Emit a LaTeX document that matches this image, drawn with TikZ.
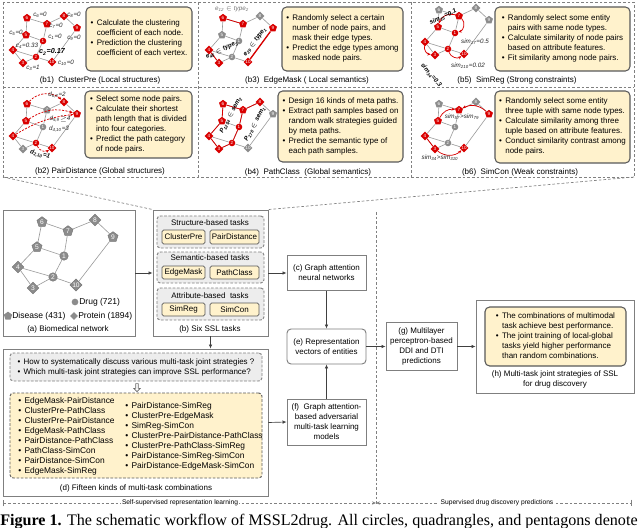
\documentclass[tikz,border=0pt]{standalone}
\usepackage{fontspec}
\setmainfont{Liberation Sans}
\newfontfamily\capfont{Liberation Serif}
\usepackage{graphicx}
\usetikzlibrary{shapes.geometric,shapes.arrows,arrows.meta}
\definecolor{yel}{HTML}{FFF2CC}
\definecolor{boxc}{HTML}{595959}
\definecolor{outc}{HTML}{7F7F7F}
\definecolor{nred}{HTML}{D90000}
\definecolor{ngray}{HTML}{8C8C8C}
\definecolor{grpfill}{HTML}{EDEDED}
\definecolor{dashc}{HTML}{808080}
\newcommand\ftx{\fontsize{6}{7.5}\selectfont}
\newcommand\ftd{\fontsize{6.3}{7.5}\selectfont}
\newcommand\ftl{\fontsize{4.7}{5.5}\selectfont}
\newcommand\ftg{\fontsize{6.4}{7.5}\selectfont}
\newcommand\ftb{\fontsize{5}{6}\selectfont}
\newcommand\sub[1]{\textsubscript{#1}}
\newcommand\blist[1]{\begin{tabular}{@{}l@{\hspace{2.5pt}}l@{}}#1\end{tabular}}
\def\grX{{43,36,23,13,26,27,47,64,77,52}}
\def\grY{{41,57,63,50,35,18,24,16,28,62}}
\newcommand\smallgraph[4]{%
  \foreach \cc [count=\n] in {#4} {%
    \pgfmathsetmacro\bxx{\grX[\n-1]}%
    \pgfmathsetmacro\byy{\grY[\n-1]}%
    \pgfmathsetmacro\xx{#2+\bxx}%
    \pgfmathsetmacro\yy{#3+\byy}%
    \node[gn, sh\n, n\cc] (#1-\n) at (\xx,\yy) {\n};
  }%
  \foreach \ua/\va in {6/7,6/5,7/8,8/9,7/1,5/1,5/4,4/2,4/3,1/2,2/3,2/10,10/9}
    \draw[gedge] (#1-\ua) -- (#1-\va);
}
\begin{document}
\begin{tikzpicture}[x=0.75pt,y=-0.75pt,
 wh/.style 2 args={minimum width=#1*0.75pt, minimum height=#2*0.75pt},
 cbox/.style={draw=outc, line width=0.7pt, fill=white, inner sep=0pt, align=center, font=\ftx},
 tbox/.style={draw=boxc, fill=yel, rounded corners=3.5pt, line width=0.8pt, inner sep=0pt, font=\ftx},
 tsk/.style={draw=boxc, fill=yel, rounded corners=1.2pt, line width=0.6pt, inner sep=0pt, font=\ftx},
 grp/.style={draw=dashc, dash pattern=on 2pt off 1.2pt, fill=grpfill, rounded corners=2.5pt, line width=0.7pt, inner sep=0pt},
 sep/.style={draw=dashc, dash pattern=on 2pt off 1.5pt, line width=0.5pt},
 arr/.style={draw=black!75, line width=0.5pt, -{Latex[length=3pt,width=2.6pt]}},
 gedge/.style={draw=black!40, line width=0.45pt},
 redge/.style={draw=nred, line width=0.6pt},
 rarr/.style={draw=nred, line width=0.55pt, -{Stealth[length=2.6pt,width=2.2pt]}},
 rdash/.style={rarr, dash pattern=on 1.6pt off 1pt},
 gn/.style={inner sep=0pt, text=white, font=\gfont},
 nr/.style={fill=nred}, ng/.style={fill=ngray},
 shC/.style={circle, minimum size=0.8*\gsz},
 shD/.style={diamond, minimum size=1.1*\gsz},
 shP/.style={regular polygon, regular polygon sides=5, minimum size=1.0*\gsz},
 sh1/.style={shC}, sh2/.style={shC}, sh3/.style={shD}, sh4/.style={shD},
 sh5/.style={shP}, sh6/.style={shP}, sh7/.style={shP}, sh8/.style={shD},
 sh9/.style={shP}, sh10/.style={shD},
 lab/.style={font=\ftl\itshape, inner sep=0pt, text=black!85},
 blab/.style={font=\ftl\bfseries\itshape, inner sep=0pt, text=black},
 capt/.style={font=\ftx, inner sep=0pt}
]
\useasboundingbox (0,0) rectangle (640,528);
\fill[white] (0,0) rectangle (640,528);

% ---------- top frame ----------
\draw[sep] (3,2) rectangle (634,177);
\draw[sep] (3,87) -- (634,87);
\draw[sep] (198,2) -- (198,177);
\draw[sep] (411,2) -- (411,177);

% ---------- small graphs ----------
\def\gsz{6.2pt}\def\gfont{\fontsize{3.4}{3.6}\selectfont}
\smallgraph{b1}{0}{0}{r,r,r,r,r,r,r,r,r,r}
\smallgraph{b3}{196}{0}{g,g,r,r,g,r,r,g,r,r}
\smallgraph{b5}{412}{-8}{r,r,r,r,r,g,r,g,g,r}
\smallgraph{b2}{0}{86}{g,r,g,r,r,r,g,r,r,r}
\smallgraph{b4}{196}{86}{r,r,r,r,r,r,r,r,g,g}
\smallgraph{b6}{412}{86}{g,g,r,r,r,g,r,g,r,r}

% b1 labels
\node[lab] at (40,15) {c\sub{6}=0};
\node[lab] at (56,26) {c\sub{7}=0};
\node[lab] at (74,15) {c\sub{8}=0};
\node[lab] at (16,33) {c\sub{5}=0};
\node[lab] at (55,37) {c\sub{1}=0};
\node[lab] at (74,38) {c\sub{9}=0};
\node[lab] at (27,46) {c\sub{4}=0.33};
\node[blab, font=\fontsize{5.4}{6}\selectfont\bfseries\itshape] at (52,52) {c\sub{2}=0.17};
\node[lab] at (66,63) {c\sub{10}=0};
\node[lab] at (33,68) {c\sub{3}=1};

% b3 decorations
\draw[redge] (b3-6) -- (b3-7);
\draw[redge] (b3-4) -- (b3-3);
\draw[redge, line width=1pt] (b3-10) -- (b3-9);
\node[lab, text=black!55] at (232,9) {e\sub{12} $\in$ type\sub{2}};
\node[blab, rotate=25] at (222,50) {e\sub{45} $\in$ type\sub{3}};
\node[blab, rotate=54] at (255,42) {e\sub{29} $\in$ type\sub{1}};

% b5 decorations
\draw[rarr] (b5-7) to[bend right=45] (b5-5);
\draw[rarr] (b5-7) to[bend left=60] (b5-1);
\draw[rarr] (b5-2) to[bend right=55] (b5-10);
\draw[rarr] (b5-4) to[bend right=45] (b5-3);
\node[blab, rotate=25] at (443,17) {sim\sub{15}=0.1};
\node[lab] at (475,42) {sim\sub{17}=0.5};
\node[lab] at (468,66) {sim\sub{210}=0.02};
\node[blab, rotate=-50] at (431,75) {sim\sub{34}=0.3};

% b2 decorations
\draw[rdash] (b2-6) to[bend left=45] (b2-8);
\draw[rdash] (b2-5) to[bend left=25] (b2-9);
\draw[rdash] (b2-4) to[bend left=12] (b2-9);
\draw[rdash] (b2-2) to[bend right=50] (b2-10);
\node[lab] at (57,95) {d\sub{6,8}=2};
\node[lab] at (60,119) {d\sub{5,9}$\geq$4};
\node[lab] at (59,129) {d\sub{4,10}=3};
\node[blab, rotate=-15] at (40,155) {d\sub{2,10}=1};

% b4 decorations
\foreach \ua/\va in {6/5,5/4,4/3,3/2,2/1,1/7,7/8,6/7}
  \draw[redge] (b4-\ua) -- (b4-\va);
\node[blab, rotate=62] at (231,115) {P\sub{1254} $\in$ sem\sub{2}};
\node[blab, rotate=62] at (255,124) {P\sub{178} $\in$ sem\sub{1}};

% b6 decorations
\draw[rarr] (b6-5) to[bend left=35] (b6-7);
\draw[rarr] (b6-9) to[bend right=35] (b6-7);
\draw[redge] (b6-4) -- (b6-3);
\draw[rarr] (b6-3) to[bend right=40] (b6-10);
\node[lab] at (462,117) {sim\sub{57}>sim\sub{79}};
\node[lab] at (440,158) {sim\sub{34}>sim\sub{310}};

% ---------- top text boxes ----------
\node[tbox, wh={106}{64}] (t1) at (139,39) {\blist{\textbullet & Calculate the clustering\\ & coefficient of each node.\\ \textbullet & Prediction the clustering\\ & coefficient of each vertex.}};
\node[tbox, wh={121}{64}] (t3) at (342.5,39) {\blist{\textbullet & Randomly select a certain\\ & number of node pairs, and\\ & mask their edge types.\\ \textbullet & Predict the edge types among\\ & masked node pairs.}};
\node[tbox, wh={135}{64}] (t5) at (562.5,39) {\blist{\textbullet & Randomly select some entity\\ & pairs with same node types.\\ \textbullet & Calculate similarity of node pairs\\ & based on attribute features.\\ \textbullet & Fit similarity among node pairs.}};
\node[tbox, wh={107}{67}] (t2) at (138.5,124.5) {\blist{\textbullet & Select some node pairs.\\ \textbullet & Calculate their shortest\\ & path length that is divided\\ & into four categories.\\ \textbullet & Predict the path category\\ & of node pairs.}};
\node[tbox, wh={125}{71}] (t4) at (340.5,126.5) {\blist{\textbullet & Design 16 kinds of meta paths.\\ \textbullet & Extract path samples based on\\ & random walk strategies guided\\ & by meta paths.\\ \textbullet & Predict the semantic type of\\ & each path samples.}};
\node[tbox, wh={135}{72}] (t6) at (562.5,127) {\blist{\textbullet & Randomly select some entity\\ & three tuple with same node types.\\ \textbullet & Calculate similarity among three\\ & tuple based on attribute features.\\ \textbullet & Conduct similarity contrast among\\ & node pairs.}};

\node[capt] at (100,80) {(b1)\ \ ClusterPre (Local structures)};
\node[capt] at (307,80) {(b3)\ \ EdgeMask ( Local semantics)};
\node[capt] at (517,80) {(b5)\ \ SimReg (Strong constraints)};
\node[capt] at (100,171) {(b2) PairDistance (Global structures)};
\node[capt] at (308,172) {(b4)\ \ PathClass\ \ (Global semantics)};
\node[capt] at (520,172) {(b6)\ \ SimCon (Weak constraints)};

% ---------- middle boxes ----------
\node[cbox, wh={132}{126}] (ax) at (69,273) {};
\node[cbox, wh={115}{126}] (bx) at (210.5,273) {};
\draw[sep] (3,177) -- (bx.north west);
\draw[sep] (634,177) -- (bx.north east);

% (a) graph
\def\gsz{8pt}\def\gfont{\fontsize{5}{5}\selectfont}
\foreach \n/\x/\y in {1/64/256,2/53/277,3/33/288,4/18/267,5/37/247,6/42/222,7/68/231,8/95/220,9/113/237,10/76/285}
  \node[gn, sh\n, ng, draw=black!55, line width=0.3pt] (a-\n) at (\x,\y) {\n};
\foreach \ua/\va in {6/7,6/5,7/8,8/9,7/1,5/1,5/4,4/2,4/3,1/2,2/3,2/10,10/9}
  \draw[gedge] (a-\ua) -- (a-\va);
\node[circle, fill=ngray, minimum size=5pt, inner sep=0pt] (lg1) at (75,302) {};
\node[anchor=west, font=\ftg, inner sep=0pt] (lt1) at (79,302) {Drug (721)};
\node[regular polygon, regular polygon sides=5, fill=ngray, minimum size=6.5pt, inner sep=0pt] (lg2) at (8,316) {};
\node[anchor=west, font=\ftg, inner sep=0pt] (lt2) at (12,316) {Disease (431)};
\node[diamond, fill=ngray, minimum size=6pt, inner sep=0pt] (lg3) at (74,316) {};
\node[anchor=west, font=\ftg, inner sep=0pt] (lt3) at (78,316) {Protein (1894)};
\node[capt] at (68,329) {(a) Biomedical network};

% (b) contents
\node[grp, wh={107}{32}] (g1) at (210.5,232) {};
\node[capt] at (210,223) {Structure-based tasks};
\node[tsk, wh={43}{14}] (cp) at (183.5,237) {ClusterPre};
\node[tsk, wh={49}{14}] (pd) at (234.5,237) {PairDistance};
\node[grp, wh={107}{31}] (g2) at (210.5,267.5) {};
\node[capt] at (210,258) {Semantic-based tasks};
\node[tsk, wh={43}{13}] (em) at (183.5,272.5) {EdgeMask};
\node[tsk, wh={49}{13}] (pc) at (234.5,272.5) {PathClass};
\node[grp, wh={107}{32}] (g3) at (210.5,304) {};
\node[capt] at (210,296) {Attribute-based\ \ tasks};
\node[tsk, wh={43}{13}] (sr) at (183.5,309.5) {SimReg};
\node[tsk, wh={49}{13}] (sc) at (234.5,309.5) {SimCon};
\node[capt] at (210,329) {(b) Six SSL tasks};

\node[cbox, wh={79}{35}] (cx) at (326.5,273) {(c) Graph attention\\neural networks};
\node[cbox, rounded corners=3pt, wh={79}{35}] (ex) at (326.5,346.5) {(e) Representation\\vectors of entities};
\node[cbox, wh={79}{46}] (fx) at (326.5,422) {(f)\ \ Graph attention-\\based adversarial\\multi-task learning\\models};
\node[cbox, wh={71}{48}] (gx) at (421.5,346.5) {(g) Multilayer\\perceptron-based\\DDI and DTI\\predictions};
\node[cbox, wh={158}{93}] (hx) at (555,346.5) {};
\node[tbox, wh={141}{59}] (hin) at (555.5,336.5) {\blist{\textbullet & The combinations of multimodal\\ & task achieve best performance.\\ \textbullet & The joint training of local-global\\ & tasks yield higher performance\\ & than random combinations.}};
\node[capt, align=center] at (555,379.5) {(h) Multi-task joint strategies of SSL\\for drug discovery};

% (d)
\node[cbox, wh={265}{147}] (dx) at (135.5,422.5) {};
\node[grp, wh={252}{28}, font=\ftx] (dq) at (136,367) {\blist{\textbullet & How to systematically discuss various multi-task joint strategies ?\\ \textbullet & Which multi-task joint strategies can improve SSL performance?}};
\node[single arrow, draw=black!60, fill=white, shape border rotate=270, minimum width=5pt, minimum height=6pt, single arrow head extend=1pt, inner sep=0.4pt, line width=0.4pt] (darr) at (137,387) {};
\node[grp, fill=yel, draw=boxc, wh={252}{85}] (dl) at (136,435.5) {};
\node[anchor=north west, inner sep=0pt, font=\ftd] (dl1) at (18,396) {\blist{\textbullet & EdgeMask-PairDistance\\ \textbullet & ClusterPre-PathClass\\ \textbullet & ClusterPre-PairDistance\\ \textbullet & EdgeMask-PathClass\\ \textbullet & PairDistance-PathClass\\ \textbullet & PathClass-SimCon\\ \textbullet & PairDistance-SimCon\\ \textbullet & EdgeMask-SimReg}};
\node[anchor=north west, inner sep=0pt, font=\ftd] (dl2) at (125,401) {\blist{\textbullet & PairDistance-SimReg\\ \textbullet & ClusterPre-EdgeMask\\ \textbullet & SimReg-SimCon\\ \textbullet & ClusterPre-PairDistance-PathClass\\ \textbullet & ClusterPre-PathClass-SimReg\\ \textbullet & PairDistance-SimReg-SimCon\\ \textbullet & PairDistance-EdgeMask-SimCon}};
\node[capt] at (136,488) {(d) Fifteen kinds of multi-task combinations};

% arrows
\draw[arr] (ax.east) -- (bx.west);
\draw[arr] (bx.east) -- (cx.west);
\draw[arr] (cx) -- (ex);
\draw[arr] (fx) -- (ex);
\draw[arr] (ex.east) -- (gx.west);
\draw[arr] (gx.east) -- (hx.west);
\draw[arr] (bx.south) -- (bx.south |- dx.north);
\draw[arr] (dx.east) -- (fx.west);

% separator & bottom
\draw[sep] (376,212) -- (376,506);
\coordinate (bl) at (3,503);
\coordinate (bm) at (376,503);
\coordinate (br) at (632,503);
\draw[sep, {Bar[width=5pt]}-{Stealth[length=3pt,width=2.5pt]}] (bl) -- (bm);
\draw[sep, {Stealth[length=3pt,width=2.5pt]}-{Bar[width=5pt]}] (bm) -- (br);
\node[fill=white, inner sep=1pt, font=\ftb] at (180,503) {Self-supervised representation learning};
\node[fill=white, inner sep=1pt, font=\ftb] at (497,503) {Supervised drug discovery predictions};

\node[anchor=base west, inner sep=0pt] (figcap) at (0,525) {\resizebox{478pt}{!}{\capfont\textbf{Figure 1.} The schematic workflow of MSSL2drug. All circles, quadrangles, and pentagons denote}};
\end{tikzpicture}
\end{document}
